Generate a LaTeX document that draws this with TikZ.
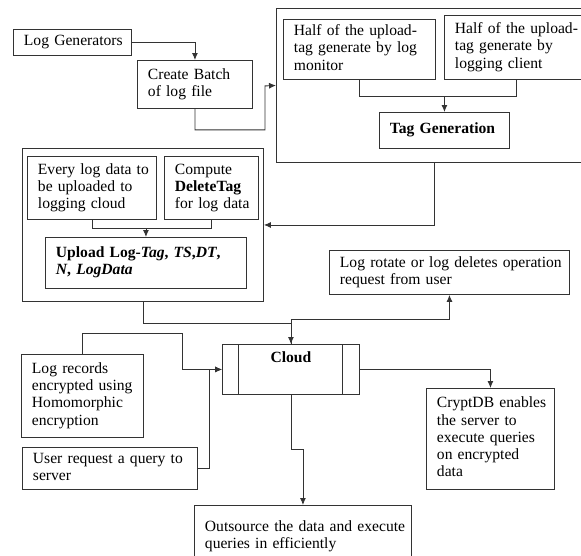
\documentclass[tikz,border=0pt]{standalone}
\usepackage{fontspec}
\setmainfont{Liberation Serif}
\usetikzlibrary{arrows.meta}
\newcommand{\lns}[1]{\begin{tabular}{@{}l@{}}#1\end{tabular}}
\begin{document}
\begin{tikzpicture}[x=1pt,y=-1pt,
  bx/.style={draw=black!80, line width=0.9pt, anchor=north west, inner xsep=10.5pt, inner ysep=2pt, align=left, font=\fontsize{15.6}{17.2}\selectfont},
  frame/.style={draw=black!80, line width=0.9pt, anchor=north west, inner sep=0pt},
  arr/.style={draw=black!80, line width=0.9pt, -{Latex[length=7pt,width=6pt]}},
  ln/.style={draw=black!80, line width=0.9pt}]
\useasboundingbox (0,0) rectangle (581,555);
\clip (0,0) rectangle (581,555);
\fill[white] (0,0) rectangle (581,555);

% top group
\node[bx, text width=97pt, minimum height=26pt] (lg) at (13,29) {\lns{Log Generators}};
\node[bx, text width=94pt, minimum height=48pt] (cb) at (137,60) {\lns{Create Batch\\of log file}};
\node[frame, minimum width=316pt, minimum height=154pt] (outer) at (276,8) {};
\node[bx, text width=131pt, minimum height=60pt] (h1) at (283,19) {\lns{Half of the upload-\\tag generate by log\\monitor}};
\node[bx, text width=123pt, minimum height=64pt] (h2) at (444,15) {\lns{Half of the upload-\\tag generate by\\logging client}};
\node[bx, text width=109pt, minimum height=36pt] (tag) at (379,112) {\lns{\textbf{Tag Generation}}};

% left group
\node[frame, minimum width=241pt, minimum height=153pt] (lb) at (22,148) {};
\node[bx, text width=108pt, minimum height=63pt] (ev) at (27,156) {\lns{Every log data to\\be uploaded to\\logging cloud}};
\node[bx, text width=73pt, minimum height=63pt] (cp) at (164,156) {\lns{Compute\\\textbf{DeleteTag}\\for log data}};
\node[bx, text width=180pt, minimum height=51pt] (up) at (45,237) {\lns{\textbf{Upload Log-\textit{Tag}, \textit{TS},\textit{DT},}\\\textbf{\textit{N}, \textit{LogData}}}};

% cloud and others
\node[bx, text width=219pt, minimum height=44pt] (rot) at (329,250) {\lns{Log rotate or log deletes operation\\request from user}};
\node[draw=black!80, line width=0.9pt, anchor=north west, minimum width=137pt, minimum height=50pt, inner sep=0pt, align=center, font=\fontsize{15.6}{17.2}\selectfont] (cloud) at (222,344) {\textbf{Cloud}\\[3pt]\strut};
\draw[ln] (cloud.north west) ++(16,0) -- ++(0,50);
\draw[ln] (cloud.north east) ++(-17,0) -- ++(0,50);
\node[bx, text width=101pt, minimum height=83pt] (rec) at (21,354) {\lns{Log records\\encrypted using\\Homomorphic\\encryption}};
\node[bx, text width=154pt, minimum height=42pt] (usr) at (22,447) {\lns{User request a query to\\server}};
\node[bx, text width=196pt, minimum height=62pt] (out) at (194,505) {\lns{Outsource the data and execute\\queries in efficiently\\ }};
\node[bx, text width=107pt, minimum height=101pt] (cr) at (426,388) {\lns{CryptDB enables\\the server to\\execute queries\\on encrypted\\data}};

% connectors
\draw[arr] (lg.east) -| (cb.north);
\draw[arr] (cb.south) -- ++(0,21) -| ++(70,-44) -- (outer.west);
\path (h1.south) ++(0,17) coordinate (j1);
\draw[ln] (h1.south) -- (j1) -| (h2.south);
\draw[arr] (j1 -| tag.north) -- (tag.north);
\draw[arr] (outer.south) |- (lb.east);
\path (ev.south) ++(0,9) coordinate (j3);
\draw[ln] (ev.south) -- (j3) -| (cp.south);
\draw[arr] (j3 -| up.north) -- (up.north);
\draw[arr] (lb.south) -- ++(0,22) -| (cloud.north);
\path (cloud.north) ++(0,-25) coordinate (j2);
\draw[arr] (j2) -| (rot.south);
\draw[ln] (j2) -- (cloud.north);
\draw[arr] (rec.north) -- ++(0,-21) -- ++(100,0) |- (cloud.west);
\draw[arr] (usr.east) -- ++(12,0) |- (cloud.west);
\draw[arr] (cloud.south) -- ++(0,55) -| (out.north);
\draw[arr] (cloud.east) -| (cr.north);
\end{tikzpicture}
\end{document}
